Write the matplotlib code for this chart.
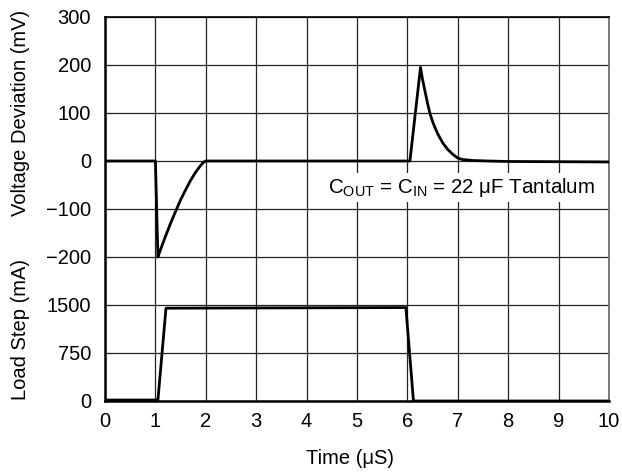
import matplotlib
matplotlib.use("Agg")
import matplotlib.pyplot as plt

plt.rcParams['font.family'] = ['Liberation Sans', 'DejaVu Sans']
plt.rcParams['mathtext.fontset'] = 'custom'
plt.rcParams['mathtext.rm'] = 'Liberation Sans'
plt.rcParams['mathtext.it'] = 'Liberation Sans:italic'

# Voltage deviation trace (time in us, mV)
v_time = [0.0, 1.0, 1.05, 1.10, 1.20, 1.30, 1.40, 1.50, 1.60, 1.70, 1.80, 1.90, 1.95, 2.0,
          6.0, 6.05, 6.26, 6.30, 6.35, 6.40, 6.45, 6.50, 6.55, 6.60, 6.70, 6.80, 6.90,
          7.00, 7.10, 7.30, 7.60, 8.0, 10.0]
v_mv = [0, 0, -200, -185, -157, -130, -105, -81, -60, -40, -23, -9, -3, 0,
        0, 0, 195, 170, 145, 120, 98, 82, 69, 57, 38, 24, 14,
        6, 3, 1, 0, -1, -2]

# Load step trace (time in us, mA)
i_time = [0.0, 1.05, 1.21, 5.97, 6.12, 10.0]
i_ma = [15, 15, 1450, 1460, 0, 0]

x_ticks = list(range(0, 11))
v_ticks = [-500, -400, -300, -200, -100, 0, 100, 200, 300]
v_tick_labels = ['0', '750', '1500', '\u2212200', '\u2212100', '0', '100', '200', '300']

FS = 14.5

fig = plt.figure(figsize=(6.22, 4.74), dpi=100)
ax = fig.add_axes([105/622, 73/474, 504/622, 384/474])
ax.set_xlim(0, 10)
ax.set_ylim(-500, 300)
ax.set_xticks(x_ticks)
ax.set_yticks(v_ticks)
ax.set_yticklabels(v_tick_labels)
ax.grid(True, color='#222222', linewidth=0.9)
ax.tick_params(axis='y', length=0, labelsize=FS, pad=10)
ax.tick_params(axis='x', length=0, labelsize=FS, pad=8)
for s in ax.spines.values():
    s.set_color('black')
    s.set_linewidth(1.2)
ax.spines['left'].set_linewidth(1.8)
ax.spines['bottom'].set_linewidth(1.8)
ax.spines['right'].set_color('#666666')

ax.plot(v_time, v_mv, color='black', linewidth=2.0, zorder=3)

ax2 = ax.twinx()
ax2.set_ylim(0, 6000)
ax2.set_yticks([])
for s in ax2.spines.values():
    s.set_visible(False)
ax2.plot(i_time, i_ma, color='black', linewidth=2.0, zorder=3)

ax.text(7.08, -55, r'C$_{\mathrm{OUT}}$ = C$_{\mathrm{IN}}$ = 22 μF Tantalum',
        ha='center', va='center', fontsize=FS + 0.3, zorder=5,
        bbox=dict(facecolor='white', edgecolor='none', pad=2))

fig.text(350/622, 1 - 459/474, 'Time (\u03bcS)', ha='center', va='center', fontsize=FS)
fig.text(21/622, 1 - 113/474, 'Voltage Deviation (mV)', rotation=90,
         ha='center', va='center', fontsize=FS)
fig.text(21/622, 1 - 330/474, 'Load Step (mA)', rotation=90,
         ha='center', va='center', fontsize=FS)

fig.savefig('out.png', dpi=100)
